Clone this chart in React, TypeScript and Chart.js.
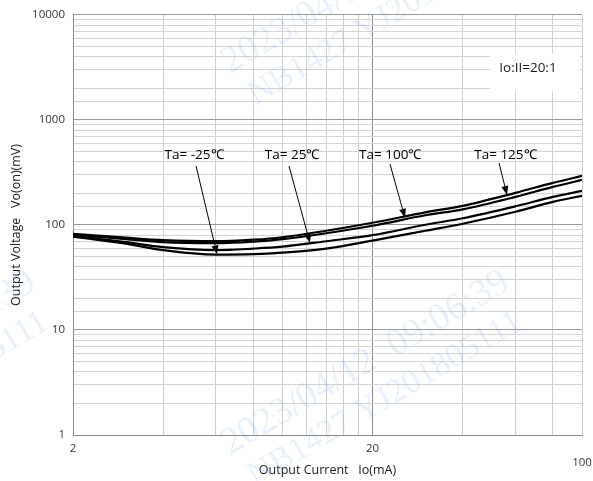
import React, { useEffect, useRef } from 'react';
import { Chart, registerables } from 'chart.js';

Chart.register(...registerables);

// ---- data ----
const currents = [2, 3, 4, 6, 8, 10, 14, 20, 30, 40, 60, 80, 100];
const vMinus25 = [77.3, 66.3, 57.5, 52.2, 52.7, 54.5, 59.5, 70.8, 88.1, 102.7, 133.4, 166.0, 189.2];
const v25 = [79.0, 68.5, 61.4, 57.5, 59.5, 62.1, 70.0, 79.9, 100.4, 115.8, 150.5, 185.2, 211.1];
const v100 = [80.7, 73.2, 68.5, 67.1, 69.3, 73.2, 83.4, 98.3, 123.6, 140.9, 185.2, 230.4, 268.5];
const v125 = [82.5, 75.6, 71.6, 70.0, 72.4, 76.4, 88.1, 104.9, 131.9, 152.1, 202.1, 251.4, 293.0];

const seriesNames = ['Ta= -25℃', 'Ta= 25℃', 'Ta= 100℃', 'Ta= 125℃'];
const xGridTicks = [2, 4, 6, 8, 10, 12, 14, 16, 18, 20, 40, 60, 80, 100];
const xLabelTicks = [2, 20, 100];
const yLabelTicks = [1, 10, 100, 1000, 10000];
const ratioText = 'Io:II=20:1';

// annotation anchors in data space (current mA, voltage mV)
const labelAnchorX = [5.07, 10.77, 22.9, 55.5];
const labelAnchorY = 463;
const arrowFromX = [5.15, 10.52, 22.86, 52.85];
const arrowFromY = [364, 364, 380, 389];
const arrowToX = [6.05, 12.36, 25.65, 56.2];
const arrowToY = [52.5, 67.5, 117, 193];
const ratioBox = { x0: 49.3, x1: 98.5, y0: 4300, y1: 1880, tx: 66, ty: 3100 };

const FONT = '"Open Sans", "Liberation Sans", sans-serif';

const annotationPlugin = {
  id: 'annotations',
  afterDatasetsDraw(chart: any) {
    const { ctx, scales } = chart;
    const x = scales.x;
    const y = scales.y;
    ctx.save();
    // ratio box
    const bx0 = x.getPixelForValue(ratioBox.x0);
    const bx1 = x.getPixelForValue(ratioBox.x1);
    const by0 = y.getPixelForValue(ratioBox.y0);
    const by1 = y.getPixelForValue(ratioBox.y1);
    ctx.fillStyle = '#ffffff';
    ctx.fillRect(bx0, by0, bx1 - bx0, by1 - by0);
    ctx.fillStyle = '#1a1a1a';
    ctx.font = '13.5px ' + FONT;
    ctx.textAlign = 'center';
    ctx.textBaseline = 'middle';
    ctx.fillText(ratioText, x.getPixelForValue(ratioBox.tx), y.getPixelForValue(ratioBox.ty));

    // labels + arrows
    for (let i = 0; i < seriesNames.length; i++) {
      ctx.fillStyle = '#000';
      ctx.font = '13.5px ' + FONT;
      ctx.fillText(seriesNames[i], x.getPixelForValue(labelAnchorX[i]), y.getPixelForValue(labelAnchorY));
      const fx = x.getPixelForValue(arrowFromX[i]);
      const fy = y.getPixelForValue(arrowFromY[i]);
      const tx = x.getPixelForValue(arrowToX[i]);
      const ty = y.getPixelForValue(arrowToY[i]);
      const ang = Math.atan2(ty - fy, tx - fx);
      const headLen = 9;
      const headW = 3.5;
      const bx = tx - headLen * Math.cos(ang);
      const by = ty - headLen * Math.sin(ang);
      ctx.strokeStyle = '#000';
      ctx.lineWidth = 1;
      ctx.beginPath();
      ctx.moveTo(fx, fy);
      ctx.lineTo(bx, by);
      ctx.stroke();
      ctx.beginPath();
      ctx.moveTo(tx, ty);
      ctx.lineTo(bx + headW * Math.sin(ang), by - headW * Math.cos(ang));
      ctx.lineTo(bx - headW * Math.sin(ang), by + headW * Math.cos(ang));
      ctx.closePath();
      ctx.fill();
    }
    ctx.restore();
  },
  afterDraw(chart: any) {
    const { ctx } = chart;
    const drawMark = (ox: number, oy: number) => {
      ctx.save();
      ctx.translate(ox, oy);
      ctx.rotate(-0.535);
      ctx.fillStyle = 'rgba(110, 165, 230, 0.16)';
      ctx.textAlign = 'left';
      ctx.textBaseline = 'alphabetic';
      ctx.font = '38px "Liberation Serif", serif';
      ctx.fillText('2023/04/12  09:06:39', 0, 0);
      ctx.font = '34px "Liberation Serif", serif';
      ctx.fillText('NB1427 YJ201805111', 6, 40);
      ctx.restore();
    };
    drawMark(230, 455);
    drawMark(230, 74);
    drawMark(-244, 455);
  },
};

export default function App() {
  const ref = useRef<HTMLCanvasElement | null>(null);
  useEffect(() => {
    document.body.style.margin = '0';
    if (!ref.current) return;
    const mk = (data: number[]) => ({
      data: currents.map((c, i) => ({ x: c, y: data[i] })),
      borderColor: '#000',
      borderWidth: 2.2,
      pointRadius: 0,
      fill: false,
      cubicInterpolationMode: 'monotone' as const,
    });
    const chart = new Chart(ref.current, {
      type: 'line',
      data: {
        datasets: [mk(vMinus25), mk(v25), mk(v100), mk(v125)].map((d, i) => ({ ...d, label: seriesNames[i] })),
      },
      options: {
        responsive: false,
        animation: false,
        layout: { padding: { top: 13, right: 11, left: 0, bottom: 0 } },
        plugins: { legend: { display: false }, tooltip: { enabled: false } },
        scales: {
          x: {
            type: 'logarithmic',
            min: 2,
            max: 100,
            afterBuildTicks: (s: any) => {
              s.ticks = xGridTicks.map((v) => ({ value: v }));
            },
            afterFit: (s: any) => {
              s.height = 46;
              s.paddingRight = 0;
              s.paddingLeft = 0;
            },
            ticks: {
              autoSkip: false,
              maxRotation: 0,
              padding: 7,
              color: '#333',
              font: { family: FONT, size: 11.5 },
              callback: (v: any) => {
                const n = Number(v);
                if (!xLabelTicks.includes(n)) return '';
                if (n === 100) return ['', '100'];
                return String(n);
              },
            },
            grid: {
              drawTicks: false,
              color: (c: any) => (c.tick && c.tick.value === 20 ? '#8a8a8a' : '#cfcfcf'),
            },
            border: { color: '#8a8a8a' },
            title: {
              display: true,
              text: 'Output Current   Io(mA)',
              color: '#1a1a1a',
              font: { family: FONT, size: 12.5 },
              padding: { top: 0, bottom: 3 },
            },
          },
          y: {
            type: 'logarithmic',
            min: 1,
            max: 10000,
            afterFit: (s: any) => {
              s.width = 73;
            },
            ticks: {
              autoSkip: false,
              padding: 8,
              color: '#333',
              font: { family: FONT, size: 11.5 },
              callback: (v: any) => {
                const n = Number(v);
                return yLabelTicks.includes(n) ? String(n) : '';
              },
            },
            grid: {
              drawTicks: false,
              color: (c: any) => {
                const v = c.tick ? c.tick.value : 0;
                return yLabelTicks.includes(v) ? '#9a9a9a' : '#d4d4d4';
              },
            },
            border: { color: '#8a8a8a' },
            title: {
              display: true,
              text: 'Output Voltage   Vo(on)(mV)',
              color: '#1a1a1a',
              font: { family: FONT, size: 12.5 },
              padding: { top: 9, bottom: 0 },
            },
          },
        },
      },
      plugins: [annotationPlugin],
    });
    return () => chart.destroy();
  }, []);
  return (
    <div style={{ position: 'absolute', left: 0, top: 0, width: 593, height: 481 }}>
      <canvas ref={ref} width={593} height={481} />
    </div>
  );
}
